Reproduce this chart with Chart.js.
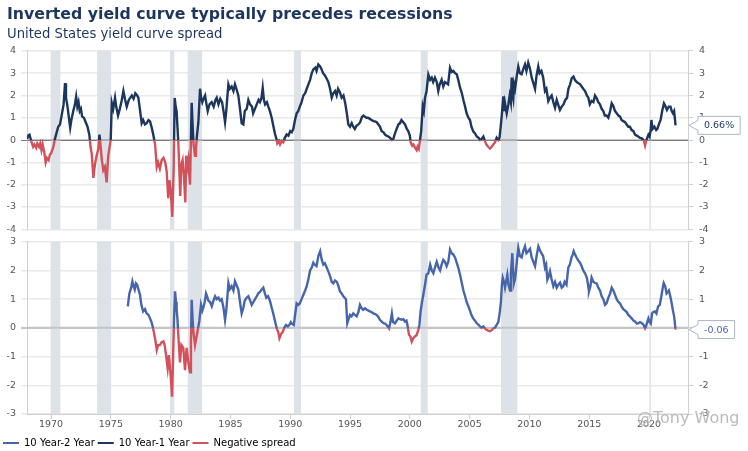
<!DOCTYPE html>
<html>
<head>
<meta charset="utf-8">
<title>Inverted yield curve typically precedes recessions</title>
<script src="https://cdn.jsdelivr.net/npm/chart.js@4.4.1/dist/chart.umd.min.js"></script>
<style>
  html, body { margin: 0; padding: 0; background: #ffffff; overflow: hidden; }
  body { position: relative; width: 748px; height: 451px; }
  .panel { position: absolute; left: 0; width: 748px; }
  #topPanel { top: 0; height: 241px; }
  #bottomPanel { top: 230px; height: 228px; }
  #credit {
    position: absolute; left: 637px; top: 408px;
    font: 16px 'DejaVu Sans', 'Liberation Sans', Arial, sans-serif;
    color: rgba(120, 120, 120, 0.5); text-shadow: 0 0 2px #fff;
    pointer-events: none;
  }
</style>
</head>
<body>
<div id="topPanel" class="panel"><canvas id="topChart"></canvas></div>
<div id="bottomPanel" class="panel"><canvas id="bottomChart"></canvas></div>
<div id="credit">@Tony Wong</div>
<script>
// x positions are in years
const tickYears = [1970, 1975, 1980, 1985, 1990, 1995, 2000, 2005, 2010, 2015, 2020];

const recessionStarts = [1969.97, 1973.85, 1979.95, 1981.43, 1990.32, 2000.91, 2007.63, 2020.03];
const recessionEnds   = [1970.78, 1975.02, 1980.31, 1982.63, 1990.90, 2001.50, 2008.99, 2020.15];

const legendLabels = ['10 Year-2 Year', '10 Year-1 Year', 'Negative spread'];

// 10 Year - 1 Year spread (top panel)
const oneYearDates = [
  1968.00, 1968.10, 1968.20, 1968.30, 1968.40, 1968.50, 1968.60, 1968.75, 1968.85, 1969.00,
  1969.10, 1969.20, 1969.30, 1969.45, 1969.55, 1969.65, 1969.80, 1969.90, 1970.00, 1970.10,
  1970.20, 1970.30, 1970.45, 1970.60, 1970.75, 1970.90, 1971.05, 1971.17, 1971.25, 1971.35,
  1971.45, 1971.60, 1971.70, 1971.86, 1972.00, 1972.10, 1972.20, 1972.30, 1972.40, 1972.50,
  1972.60, 1972.75, 1972.90, 1973.05, 1973.20, 1973.30, 1973.40, 1973.54, 1973.62, 1973.70,
  1973.82, 1973.95, 1974.05, 1974.15, 1974.25, 1974.37, 1974.50, 1974.65, 1974.72, 1974.79,
  1974.90, 1974.99, 1975.08, 1975.20, 1975.35, 1975.45, 1975.60, 1975.75, 1975.90, 1976.05,
  1976.20, 1976.33, 1976.50, 1976.75, 1976.90, 1977.05, 1977.20, 1977.30, 1977.45, 1977.58,
  1977.70, 1977.85, 1978.00, 1978.15, 1978.28, 1978.42, 1978.55, 1978.70, 1978.84, 1978.95,
  1979.10, 1979.25, 1979.40, 1979.55, 1979.67, 1979.80, 1979.90, 1980.00, 1980.14, 1980.25,
  1980.34, 1980.42, 1980.50, 1980.57, 1980.64, 1980.72, 1980.80, 1980.90, 1981.00, 1981.10,
  1981.23, 1981.30, 1981.40, 1981.48, 1981.62, 1981.76, 1981.85, 1981.92, 1982.04, 1982.12,
  1982.20, 1982.32, 1982.46, 1982.55, 1982.65, 1982.75, 1982.88, 1983.00, 1983.10, 1983.25,
  1983.43, 1983.60, 1983.75, 1983.85, 1984.00, 1984.15, 1984.30, 1984.45, 1984.55, 1984.65,
  1984.75, 1984.83, 1984.95, 1985.10, 1985.25, 1985.38, 1985.50, 1985.66, 1985.80, 1985.94,
  1986.08, 1986.20, 1986.36, 1986.50, 1986.64, 1986.80, 1986.90, 1987.05, 1987.20, 1987.35,
  1987.47, 1987.60, 1987.70, 1987.80, 1987.90, 1988.05, 1988.17, 1988.30, 1988.45, 1988.60,
  1988.73, 1988.85, 1988.92, 1989.05, 1989.15, 1989.30, 1989.42, 1989.55, 1989.70, 1989.85,
  1990.00, 1990.13, 1990.26, 1990.40, 1990.54, 1990.67, 1990.80, 1990.95, 1991.10, 1991.25,
  1991.38, 1991.52, 1991.66, 1991.80, 1991.93, 1992.10, 1992.20, 1992.35, 1992.50, 1992.60,
  1992.75, 1992.90, 1993.05, 1993.19, 1993.33, 1993.47, 1993.60, 1993.75, 1993.88, 1994.00,
  1994.15, 1994.30, 1994.45, 1994.60, 1994.73, 1994.86, 1995.00, 1995.14, 1995.27, 1995.40,
  1995.55, 1995.70, 1995.85, 1996.00, 1996.12, 1996.25, 1996.38, 1996.50, 1996.65, 1996.80,
  1996.95, 1997.09, 1997.23, 1997.37, 1997.50, 1997.65, 1997.80, 1997.93, 1998.05, 1998.20,
  1998.35, 1998.50, 1998.62, 1998.76, 1998.90, 1999.04, 1999.17, 1999.30, 1999.45, 1999.60,
  1999.75, 1999.87, 2000.00, 2000.07, 2000.20, 2000.30, 2000.45, 2000.57, 2000.65, 2000.75,
  2000.85, 2000.95, 2001.08, 2001.17, 2001.27, 2001.40, 2001.55, 2001.70, 2001.83, 2001.95,
  2002.10, 2002.25, 2002.38, 2002.50, 2002.66, 2002.80, 2002.94, 2003.08, 2003.20, 2003.36,
  2003.50, 2003.64, 2003.78, 2003.92, 2004.05, 2004.20, 2004.35, 2004.50, 2004.62, 2004.75,
  2004.90, 2005.03, 2005.15, 2005.30, 2005.45, 2005.60, 2005.75, 2005.87, 2006.00, 2006.15,
  2006.28, 2006.40, 2006.55, 2006.70, 2006.85, 2006.98, 2007.12, 2007.26, 2007.40, 2007.50,
  2007.60, 2007.68, 2007.82, 2007.90, 2007.96, 2008.10, 2008.24, 2008.35, 2008.45, 2008.52,
  2008.60, 2008.65, 2008.72, 2008.80, 2008.95, 2009.07, 2009.20, 2009.35, 2009.50, 2009.63,
  2009.75, 2009.90, 2010.05, 2010.19, 2010.30, 2010.47, 2010.60, 2010.74, 2010.85, 2011.00,
  2011.15, 2011.30, 2011.42, 2011.58, 2011.72, 2011.86, 2012.00, 2012.14, 2012.28, 2012.40,
  2012.55, 2012.70, 2012.85, 2013.00, 2013.15, 2013.26, 2013.40, 2013.54, 2013.68, 2013.80,
  2013.95, 2014.10, 2014.25, 2014.37, 2014.50, 2014.65, 2014.80, 2014.93, 2015.05, 2015.20,
  2015.35, 2015.48, 2015.60, 2015.76, 2015.90, 2016.04, 2016.18, 2016.30, 2016.45, 2016.60,
  2016.75, 2016.88, 2017.00, 2017.16, 2017.30, 2017.44, 2017.58, 2017.70, 2017.85, 2018.00,
  2018.13, 2018.27, 2018.40, 2018.55, 2018.70, 2018.83, 2018.97, 2019.10, 2019.25, 2019.40,
  2019.55, 2019.67, 2019.75, 2019.85, 2019.95, 2020.05, 2020.15, 2020.20, 2020.30, 2020.45,
  2020.60, 2020.70, 2020.85, 2020.97, 2021.10, 2021.25, 2021.35, 2021.50, 2021.65, 2021.80,
  2021.90, 2022.00, 2022.10, 2022.22
];
const oneYearSpread = [
  0.05, 0.20, 0.24, 0.05, -0.15, -0.30, -0.20, -0.35, -0.15, -0.30,
  -0.15, -0.45, -0.20, -0.60, -1.00, -0.80, -0.90, -0.65, -0.60, -0.45,
  -0.30, 0.00, 0.30, 0.60, 0.70, 1.14, 1.60, 2.55, 1.90, 1.60,
  1.20, 0.55, 0.90, 1.30, 1.60, 1.95, 1.50, 1.70, 1.30, 1.40,
  1.05, 1.00, 0.80, 0.60, 0.24, -0.30, -0.60, -1.70, -1.30, -1.00,
  -0.68, -0.40, 0.24, -0.30, -0.90, -1.35, -1.20, -1.90, -1.20, -0.68,
  -0.30, 0.00, 1.67, 1.40, 1.90, 1.50, 1.10, 1.40, 1.75, 2.20,
  1.80, 1.50, 1.80, 2.00, 1.85, 2.10, 2.00, 1.90, 1.30, 0.76,
  0.90, 0.70, 0.76, 0.90, 0.84, 0.55, 0.24, -0.20, -1.20, -1.00,
  -1.28, -0.90, -0.80, -1.00, -1.40, -2.60, -1.80, -2.20, -3.44, -1.40,
  1.89, 1.50, 1.30, 0.60, -0.10, -1.20, -2.50, -1.10, -0.90, -1.50,
  -2.80, -0.70, -1.20, -0.90, -2.00, 1.67, 0.50, -0.20, -0.70, -0.40,
  0.20, 0.80, 2.30, 1.90, 1.70, 1.85, 2.00, 1.60, 1.30, 1.60,
  1.70, 1.50, 1.80, 1.90, 1.60, 1.85, 1.70, 1.20, 0.80, 1.30,
  2.00, 2.50, 2.30, 2.40, 2.20, 2.50, 2.30, 2.00, 1.40, 0.75,
  0.70, 1.30, 1.40, 1.80, 1.60, 1.50, 1.20, 1.40, 1.60, 1.80,
  1.70, 1.90, 2.34, 1.80, 1.60, 1.70, 1.50, 1.30, 1.00, 0.60,
  0.27, 0.05, -0.15, -0.05, -0.20, -0.05, -0.10, 0.10, 0.25, 0.20,
  0.40, 0.35, 0.50, 0.90, 1.20, 1.30, 1.50, 1.70, 2.00, 2.10,
  2.30, 2.50, 2.70, 3.00, 3.17, 3.25, 3.10, 3.39, 3.30, 3.20,
  3.00, 2.90, 2.75, 2.60, 2.30, 1.90, 2.10, 2.20, 2.00, 2.30,
  2.15, 1.90, 2.00, 1.65, 1.20, 0.70, 0.60, 0.76, 0.60, 0.50,
  0.65, 0.70, 0.80, 1.04, 1.10, 1.04, 1.00, 1.00, 0.95, 0.90,
  0.85, 0.84, 0.80, 0.70, 0.60, 0.40, 0.35, 0.24, 0.20, 0.16,
  0.10, 0.00, 0.05, 0.30, 0.50, 0.70, 0.75, 0.90, 0.80, 0.70,
  0.50, 0.40, 0.20, -0.10, -0.25, -0.20, -0.35, -0.45, -0.30, -0.40,
  0.00, 0.40, 1.50, 1.30, 1.90, 2.20, 2.94, 2.70, 2.80, 2.60,
  2.80, 2.60, 2.20, 2.50, 2.70, 2.40, 2.60, 2.55, 2.50, 3.24,
  3.05, 3.10, 3.00, 2.95, 2.70, 2.35, 2.10, 1.75, 1.50, 1.20,
  1.00, 0.90, 0.60, 0.39, 0.30, 0.16, 0.10, 0.00, 0.05, 0.16,
  -0.05, -0.20, -0.30, -0.38, -0.30, -0.20, -0.10, 0.10, 0.00, 0.10,
  0.60, 1.05, 1.96, 1.30, 1.65, 1.20, 1.60, 2.00, 1.70, 2.80,
  2.00, 1.85, 2.50, 2.30, 2.90, 3.30, 3.00, 2.95, 3.20, 3.39,
  3.10, 3.47, 3.20, 2.80, 2.60, 2.30, 2.90, 3.30, 3.00, 3.10,
  2.80, 2.20, 2.30, 1.75, 1.90, 2.00, 1.70, 1.45, 1.80, 1.60,
  1.35, 1.50, 1.60, 1.80, 1.90, 2.30, 2.50, 2.78, 2.85, 2.70,
  2.60, 2.55, 2.50, 2.40, 2.30, 2.20, 2.00, 1.90, 1.60, 1.75,
  1.70, 2.00, 1.90, 1.70, 1.60, 1.40, 1.30, 1.10, 1.10, 1.00,
  1.30, 1.65, 1.55, 1.30, 1.20, 1.10, 1.05, 0.90, 0.85, 0.80,
  0.70, 0.60, 0.60, 0.45, 0.40, 0.24, 0.20, 0.16, 0.10, 0.08,
  0.00, -0.25, -0.05, 0.10, 0.24, 0.15, 0.50, 0.90, 0.50, 0.60,
  0.45, 0.50, 0.75, 0.90, 1.30, 1.65, 1.55, 1.35, 1.50, 1.50,
  1.30, 1.20, 1.30, 0.66
];

// 10 Year - 2 Year spread (bottom panel)
const twoYearDates = [
  1976.42, 1976.55, 1976.70, 1976.80, 1976.90, 1977.00, 1977.10, 1977.20, 1977.30, 1977.44,
  1977.55, 1977.70, 1977.85, 1978.00, 1978.15, 1978.28, 1978.40, 1978.50, 1978.64, 1978.75,
  1978.84, 1978.95, 1979.10, 1979.25, 1979.40, 1979.50, 1979.60, 1979.75, 1979.85, 1980.00,
  1980.12, 1980.23, 1980.30, 1980.37, 1980.45, 1980.50, 1980.57, 1980.64, 1980.78, 1980.90,
  1981.06, 1981.20, 1981.34, 1981.48, 1981.62, 1981.70, 1981.76, 1981.85, 1981.90, 1982.04,
  1982.20, 1982.30, 1982.40, 1982.54, 1982.65, 1982.73, 1982.85, 1982.96, 1983.05, 1983.15,
  1983.30, 1983.44, 1983.58, 1983.72, 1983.85, 1984.00, 1984.13, 1984.27, 1984.42, 1984.55,
  1984.65, 1984.75, 1984.83, 1984.95, 1985.10, 1985.25, 1985.38, 1985.50, 1985.66, 1985.80,
  1985.94, 1986.08, 1986.20, 1986.35, 1986.50, 1986.65, 1986.78, 1986.92, 1987.06, 1987.20,
  1987.33, 1987.47, 1987.60, 1987.75, 1987.88, 1988.00, 1988.15, 1988.30, 1988.45, 1988.58,
  1988.72, 1988.87, 1989.00, 1989.10, 1989.25, 1989.37, 1989.50, 1989.65, 1989.80, 1989.92,
  1990.05, 1990.12, 1990.30, 1990.42, 1990.54, 1990.67, 1990.80, 1990.95, 1991.10, 1991.25,
  1991.38, 1991.52, 1991.66, 1991.80, 1991.93, 1992.05, 1992.20, 1992.35, 1992.50, 1992.62,
  1992.77, 1992.90, 1993.05, 1993.20, 1993.33, 1993.47, 1993.60, 1993.75, 1993.90, 1994.03,
  1994.16, 1994.30, 1994.44, 1994.55, 1994.66, 1994.77, 1994.88, 1995.00, 1995.13, 1995.27,
  1995.40, 1995.55, 1995.70, 1995.83, 1995.95, 1996.10, 1996.25, 1996.40, 1996.55, 1996.67,
  1996.80, 1996.95, 1997.10, 1997.23, 1997.37, 1997.50, 1997.65, 1997.80, 1997.93, 1998.06,
  1998.15, 1998.26, 1998.38, 1998.50, 1998.60, 1998.76, 1998.90, 1999.04, 1999.18, 1999.32,
  1999.46, 1999.60, 1999.72, 1999.80, 1999.93, 2000.05, 2000.16, 2000.30, 2000.43, 2000.57,
  2000.71, 2000.80, 2000.90, 2001.02, 2001.13, 2001.27, 2001.40, 2001.55, 2001.70, 2001.83,
  2001.97, 2002.10, 2002.25, 2002.40, 2002.53, 2002.66, 2002.80, 2002.94, 2003.08, 2003.22,
  2003.36, 2003.50, 2003.64, 2003.78, 2003.90, 2004.05, 2004.20, 2004.35, 2004.48, 2004.62,
  2004.75, 2004.90, 2005.03, 2005.15, 2005.30, 2005.45, 2005.60, 2005.75, 2005.87, 2006.00,
  2006.15, 2006.28, 2006.42, 2006.55, 2006.70, 2006.85, 2006.98, 2007.12, 2007.26, 2007.40,
  2007.53, 2007.62, 2007.70, 2007.77, 2007.87, 2007.96, 2008.05, 2008.15, 2008.25, 2008.38,
  2008.45, 2008.57, 2008.65, 2008.70, 2008.80, 2008.88, 2008.97, 2009.07, 2009.20, 2009.35,
  2009.50, 2009.63, 2009.75, 2009.90, 2010.05, 2010.19, 2010.33, 2010.47, 2010.60, 2010.75,
  2010.88, 2011.00, 2011.15, 2011.30, 2011.40, 2011.50, 2011.62, 2011.72, 2011.85, 2012.00,
  2012.14, 2012.28, 2012.42, 2012.56, 2012.70, 2012.83, 2012.95, 2013.10, 2013.25, 2013.38,
  2013.52, 2013.62, 2013.70, 2013.82, 2013.94, 2014.08, 2014.23, 2014.37, 2014.50, 2014.65,
  2014.80, 2014.90, 2014.98, 2015.10, 2015.20, 2015.35, 2015.48, 2015.62, 2015.76, 2015.90,
  2016.04, 2016.18, 2016.32, 2016.45, 2016.60, 2016.75, 2016.88, 2017.02, 2017.16, 2017.30,
  2017.44, 2017.58, 2017.70, 2017.85, 2018.00, 2018.13, 2018.27, 2018.40, 2018.55, 2018.70,
  2018.83, 2018.97, 2019.10, 2019.25, 2019.40, 2019.55, 2019.67, 2019.75, 2019.85, 2019.95,
  2020.05, 2020.15, 2020.25, 2020.35, 2020.50, 2020.62, 2020.76, 2020.90, 2021.03, 2021.13,
  2021.23, 2021.35, 2021.47, 2021.57, 2021.66, 2021.78, 2021.90, 2022.00, 2022.10, 2022.22
];
const twoYearSpread = [
  0.75, 1.20, 1.40, 1.62, 1.45, 1.33, 1.55, 1.50, 1.35, 1.15,
  0.80, 0.57, 0.65, 0.50, 0.45, 0.33, 0.20, 0.05, -0.24, -0.50,
  -0.77, -0.60, -0.60, -0.50, -0.47, -0.60, -0.90, -1.40, -0.95, -1.65,
  -2.40, -0.60, 0.50, 1.27, 0.90, 0.65, 0.30, -0.24, -1.20, -0.60,
  -0.70, -1.47, -0.70, -1.20, -1.55, -0.50, 0.98, 0.20, -0.12, -0.60,
  -0.24, 0.00, 0.24, 0.80, 0.60, 0.70, 0.90, 1.20, 1.10, 0.95,
  0.90, 0.75, 0.95, 1.10, 1.00, 1.05, 0.95, 1.00, 0.70, 0.28,
  0.60, 1.10, 1.56, 1.35, 1.45, 1.30, 1.62, 1.50, 1.33, 0.90,
  0.50, 0.70, 0.95, 1.05, 1.10, 0.95, 0.80, 0.90, 1.00, 1.10,
  1.20, 1.25, 1.33, 1.40, 1.20, 1.05, 1.10, 0.95, 0.70, 0.50,
  0.25, -0.02, -0.15, -0.36, -0.20, -0.15, 0.00, 0.10, 0.05, 0.10,
  0.20, 0.15, 0.10, 0.50, 0.85, 0.80, 0.85, 1.00, 1.15, 1.30,
  1.45, 1.70, 2.00, 2.10, 2.27, 2.20, 2.15, 2.50, 2.67, 2.40,
  2.20, 2.25, 2.10, 1.95, 1.80, 1.60, 1.55, 1.65, 1.60, 1.45,
  1.27, 1.20, 1.10, 1.05, 1.00, 0.16, 0.30, 0.45, 0.40, 0.50,
  0.45, 0.40, 0.55, 0.80, 0.70, 0.63, 0.68, 0.63, 0.60, 0.57,
  0.55, 0.50, 0.48, 0.45, 0.38, 0.28, 0.22, 0.16, 0.15, 0.10,
  0.05, -0.02, 0.20, 0.50, 0.20, 0.16, 0.25, 0.33, 0.30, 0.28,
  0.30, 0.22, 0.25, 0.10, -0.24, -0.30, -0.48, -0.35, -0.30, -0.25,
  -0.07, 0.10, 0.57, 0.90, 1.15, 1.50, 1.85, 1.90, 2.20, 2.00,
  1.90, 2.10, 2.30, 2.10, 2.00, 2.20, 2.37, 2.30, 2.15, 2.30,
  2.73, 2.60, 2.55, 2.45, 2.30, 2.10, 1.85, 1.55, 1.30, 1.10,
  0.90, 0.75, 0.60, 0.45, 0.33, 0.25, 0.16, 0.10, 0.05, 0.00,
  0.05, -0.02, -0.07, -0.10, -0.12, -0.08, -0.02, 0.00, 0.10, 0.20,
  0.57, 0.90, 1.50, 1.74, 1.60, 1.40, 1.60, 1.85, 1.50, 1.30,
  1.90, 2.60, 1.90, 1.55, 1.70, 2.00, 2.40, 2.79, 2.50, 2.45,
  2.70, 2.84, 2.60, 2.67, 2.75, 2.45, 2.30, 2.15, 2.50, 2.84,
  2.70, 2.60, 2.50, 2.10, 2.20, 1.68, 1.80, 1.97, 1.70, 1.45,
  1.60, 1.40, 1.50, 1.57, 1.40, 1.45, 1.60, 1.50, 2.10, 2.20,
  2.45, 2.55, 2.67, 2.55, 2.45, 2.35, 2.27, 2.15, 2.00, 1.90,
  1.75, 1.50, 1.27, 1.45, 1.75, 1.60, 1.57, 1.55, 1.40, 1.30,
  1.10, 1.00, 0.80, 0.85, 1.05, 1.20, 1.40, 1.30, 1.15, 1.00,
  0.90, 0.85, 0.75, 0.65, 0.60, 0.55, 0.45, 0.40, 0.33, 0.25,
  0.22, 0.15, 0.16, 0.20, 0.16, 0.10, -0.02, 0.05, 0.20, 0.33,
  0.20, 0.15, 0.50, 0.55, 0.57, 0.50, 0.75, 0.80, 1.10, 1.35,
  1.56, 1.45, 1.20, 1.25, 1.30, 1.10, 0.85, 0.60, 0.40, -0.06
];

const NAVY = '#1c365e';
const BLUE = '#4666a9';
const RED = '#d2515b';
const BAND = '#dde1e8';
const GRID = '#e9e9e9';
const AXIS = '#d0d0d0';
const X_MIN = 1967.99;
const X_MAX = 2023.26;
const FONT = "'DejaVu Sans', 'Liberation Sans', Arial, sans-serif";
const legendColors = [BLUE, NAVY, RED];

Chart.defaults.font.family = FONT;
Chart.defaults.color = '#555';

function points(dates, values) {
  return dates.map((d, i) => ({ x: d, y: values[i] }));
}

// line colour switches to red below zero
function signColor(above, below) {
  return function (context) {
    const chart = context.chart;
    const area = chart.chartArea;
    if (!area) return above;
    const zero = chart.scales.y.getPixelForValue(0);
    const stop = Math.min(Math.max((zero - area.top) / (area.bottom - area.top), 0), 1);
    const g = chart.ctx.createLinearGradient(0, area.top, 0, area.bottom);
    g.addColorStop(0, above);
    g.addColorStop(stop, above);
    g.addColorStop(stop, below);
    g.addColorStop(1, below);
    return g;
  };
}

const recessionBands = {
  id: 'recessionBands',
  beforeDatasetsDraw(chart, args, opts) {
    const { ctx, chartArea, scales } = chart;
    ctx.save();
    ctx.fillStyle = BAND;
    recessionStarts.forEach((start, i) => {
      const x0 = scales.x.getPixelForValue(start);
      const x1 = scales.x.getPixelForValue(recessionEnds[i]);
      ctx.fillRect(x0, chartArea.top, Math.max(x1 - x0, 1.5), chartArea.bottom - chartArea.top);
    });
    // zero line stays on top of the bands
    const y0 = scales.y.getPixelForValue(0);
    ctx.strokeStyle = opts.zeroColor;
    ctx.lineWidth = opts.zeroWidth;
    ctx.beginPath();
    ctx.moveTo(chartArea.left, y0);
    ctx.lineTo(chartArea.right, y0);
    ctx.stroke();
    ctx.restore();
  }
};

const lastValueFlag = {
  id: 'lastValueFlag',
  afterDatasetsDraw(chart, args, opts) {
    const data = chart.data.datasets[0].data;
    const last = data[data.length - 1];
    const { ctx, chartArea, scales } = chart;
    const y = scales.y.getPixelForValue(last.y);
    const text = last.y.toFixed(2) + (opts.suffix || '');
    ctx.save();
    ctx.font = '9.5px ' + FONT;
    const w = ctx.measureText(text).width + 12;
    const h = 18;
    const tip = chartArea.right + 1;
    const left = chartArea.right + 10;
    ctx.beginPath();
    ctx.moveTo(tip, y);
    ctx.lineTo(left, y - 5);
    ctx.lineTo(left, y - h / 2);
    ctx.lineTo(left + w, y - h / 2);
    ctx.lineTo(left + w, y + h / 2);
    ctx.lineTo(left, y + h / 2);
    ctx.lineTo(left, y + 5);
    ctx.closePath();
    ctx.fillStyle = '#ffffff';
    ctx.fill();
    ctx.strokeStyle = '#aab7c9';
    ctx.lineWidth = 1;
    ctx.stroke();
    ctx.fillStyle = opts.color;
    ctx.textAlign = 'left';
    ctx.textBaseline = 'middle';
    ctx.fillText(text, left + 6, y + 0.5);
    ctx.restore();
  }
};

function leftAxis(limit, width, zeroColor, zeroWidth) {
  return {
    position: 'left',
    min: -limit,
    max: limit,
    ticks: { stepSize: 1, font: { size: 9.5 }, color: '#555', padding: 5 },
    grid: {
      color: c => (c.tick && c.tick.value === 0) ? zeroColor : GRID,
      lineWidth: c => (c.tick && c.tick.value === 0) ? zeroWidth : 1.5,
      tickLength: 6
    },
    border: { color: AXIS },
    afterFit: s => { s.width = width; }
  };
}

function rightAxis(limit) {
  return {
    position: 'right',
    min: -limit,
    max: limit,
    ticks: { stepSize: 1, font: { size: 9.5 }, color: '#555', padding: 6 },
    grid: { drawOnChartArea: false, tickLength: 5, color: AXIS },
    border: { color: AXIS },
    afterFit: s => { s.width = 60; }
  };
}

new Chart(document.getElementById('topChart'), {
  type: 'line',
  data: {
    datasets: [{
      label: '10 Year-1 Year',
      data: points(oneYearDates, oneYearSpread),
      borderColor: signColor(NAVY, RED),
      borderWidth: 2.4,
      pointRadius: 0,
      tension: 0,
      fill: false
    }]
  },
  options: {
    responsive: true,
    maintainAspectRatio: false,
    animation: false,
    events: [],
    layout: { padding: { left: 7, right: 0, top: 0, bottom: 0 } },
    scales: {
      x: { type: 'linear', display: false, min: X_MIN, max: X_MAX },
      y: leftAxis(4, 20, '#7d7d7d', 1),
      yRight: rightAxis(4)
    },
    plugins: {
      legend: { display: false },
      tooltip: { enabled: false },
      title: {
        display: true,
        text: 'Inverted yield curve typically precedes recessions',
        align: 'start',
        color: NAVY,
        font: { size: 15.75, weight: 'bold' },
        padding: { top: 5.5, bottom: 0 }
      },
      subtitle: {
        display: true,
        text: 'United States yield curve spread',
        align: 'start',
        color: NAVY,
        font: { size: 13.2 },
        padding: { top: 2, bottom: 8.6 }
      },
      recessionBands: { zeroColor: '#7d7d7d', zeroWidth: 1 },
      lastValueFlag: { color: NAVY, suffix: '%' }
    }
  },
  plugins: [recessionBands, lastValueFlag]
});

new Chart(document.getElementById('bottomChart'), {
  type: 'line',
  data: {
    datasets: [{
      label: '10 Year-2 Year',
      data: points(twoYearDates, twoYearSpread),
      borderColor: signColor(BLUE, RED),
      borderWidth: 2.4,
      pointRadius: 0,
      tension: 0,
      fill: false
    }]
  },
  options: {
    responsive: true,
    maintainAspectRatio: false,
    animation: false,
    events: [],
    layout: { padding: { left: 0, right: 0, top: 0, bottom: 0 } },
    scales: {
      x: {
        type: 'linear',
        min: X_MIN,
        max: X_MAX,
        afterBuildTicks: s => { s.ticks = tickYears.map(v => ({ value: v })); },
        ticks: {
          callback: v => String(v),
          font: { size: 9.5 },
          color: '#555',
          padding: 0,
          maxRotation: 0,
          autoSkip: false
        },
        grid: { drawOnChartArea: false, tickLength: 5, color: AXIS },
        border: { color: AXIS },
        afterFit: s => { s.height = 21; }
      },
      y: leftAxis(3, 27, '#c4c4c4', 2),
      yRight: rightAxis(3)
    },
    plugins: {
      tooltip: { enabled: false },
      legend: {
        position: 'bottom',
        align: 'start',
        labels: {
          boxWidth: 16,
          boxHeight: 2,
          padding: 3,
          color: '#333',
          font: { size: 10 },
          generateLabels: () => legendLabels.map((text, i) => ({
            text: text,
            fillStyle: legendColors[i],
            strokeStyle: legendColors[i],
            lineWidth: 0,
            hidden: false,
            datasetIndex: 0
          }))
        }
      },
      recessionBands: { zeroColor: '#c4c4c4', zeroWidth: 2 },
      lastValueFlag: { color: BLUE, suffix: '' }
    }
  },
  plugins: [recessionBands, lastValueFlag]
});
</script>
</body>
</html>
